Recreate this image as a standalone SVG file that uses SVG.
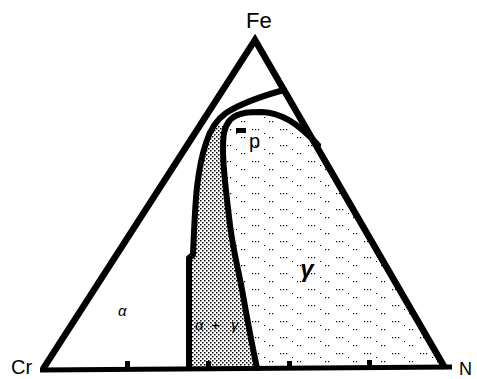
<svg xmlns="http://www.w3.org/2000/svg" width="477" height="379" viewBox="0 0 477 379">
  <style>
    .edge { fill: none; stroke: #000; stroke-width: 6.5; stroke-linejoin: miter; stroke-miterlimit: 10; }
    .base { fill: none; stroke: #000; stroke-width: 5; }
    .curve { fill: none; stroke: #000; stroke-width: 6; stroke-linejoin: round; stroke-linecap: round; }
    .lbl { font-family: "Liberation Sans", Arial, sans-serif; fill: #000; }
    .greek { font-family: "Liberation Sans", Arial, sans-serif; font-style: italic; fill: #000; }
  </style>
  <defs>
    <pattern id="dense" width="4" height="4" patternUnits="userSpaceOnUse">
      <rect width="4" height="4" fill="#ffffff"/>
      <rect x="0" y="0" width="1.5" height="1.5" fill="#000"/>
      <rect x="2" y="2" width="1.5" height="1.5" fill="#000"/>
    </pattern>
    <pattern id="sparse" width="28" height="16" patternUnits="userSpaceOnUse">
      <rect width="28" height="16" fill="#ffffff"/>
      <rect x="0" y="1" width="1.2" height="1.2" fill="#000"/>
      <rect x="3" y="1" width="1.2" height="1.2" fill="#000"/>
      <rect x="6" y="1" width="1.2" height="1.2" fill="#000"/>
      <rect x="17" y="9" width="1.2" height="1.2" fill="#000"/>
      <rect x="20" y="9" width="1.2" height="1.2" fill="#000"/>
      <rect x="12" y="5" width="1" height="1" fill="#000"/>
    </pattern>
  </defs>

  <g id="regions">
    <path id="gamma-region" fill="url(#sparse)" d="M257,368 C252,345 247,318 243,295 C239,272 233,250 230,225 C227,200 223,170 223,150 C223,135 224,127 230,120 C238,112 250,112 262,112 C280,113 296,121 318,145 L445,368 Z"/>
    <path id="alpha-gamma-region" fill="url(#dense)" d="M189,368 L189,258 L193,255 C194,230 195,205 197,187 C199,170 202,155 206,143 C208,136 211,130 214,126 L224,126 C223,135 223,140 223,150 C223,170 227,200 230,225 C233,250 239,272 243,295 C247,318 252,345 257,368 Z"/>
  </g>

  <g id="triangle">
    <path class="edge" d="M43,369 L255,40 L445,368"/>
    <line class="base" x1="40" y1="370" x2="452" y2="367"/>
    <g id="ticks" fill="#000">
      <rect x="125" y="361" width="5" height="7"/>
      <rect x="206" y="361" width="5" height="7"/>
      <rect x="287" y="361" width="5" height="7"/>
      <rect x="367" y="360" width="5" height="7"/>
    </g>
  </g>

  <g id="connectors">
    <path id="alpha-boundary" class="curve" d="M189,368 L189,258 L193,255 C194,230 195,205 197,187 C199,170 202,155 206,143 C210,130 216,120 226,113 C240,104 262,96 284,90"/>
    <path id="gamma-boundary" class="curve" d="M257,368 C252,345 247,318 243,295 C239,272 233,250 230,225 C227,200 223,170 223,150 C223,135 224,127 230,120 C238,112 250,112 262,112 C280,113 296,121 318,145"/>
  </g>

  <g id="labels">
    <text id="Fe" class="lbl" x="246" y="28" font-size="22">Fe</text>
    <text id="Cr" class="lbl" x="11" y="374" font-size="20">Cr</text>
    <text id="N" class="lbl" x="459" y="375" font-size="18">N</text>
    <rect id="dash" x="236" y="128" width="10" height="5" fill="#000"/>
    <text id="p" class="lbl" x="249" y="148" font-size="20">p</text>
    <text id="alpha" class="greek" x="118" y="316" font-size="15">α</text>
    <text id="alpha-gamma" class="greek" font-size="15" y="330"><tspan x="195">α</tspan><tspan x="211">+</tspan><tspan x="231">γ</tspan></text>
    <text id="gamma" class="greek" x="307" y="277" font-size="24" font-weight="bold" text-anchor="middle">γ</text>
  </g>
</svg>
